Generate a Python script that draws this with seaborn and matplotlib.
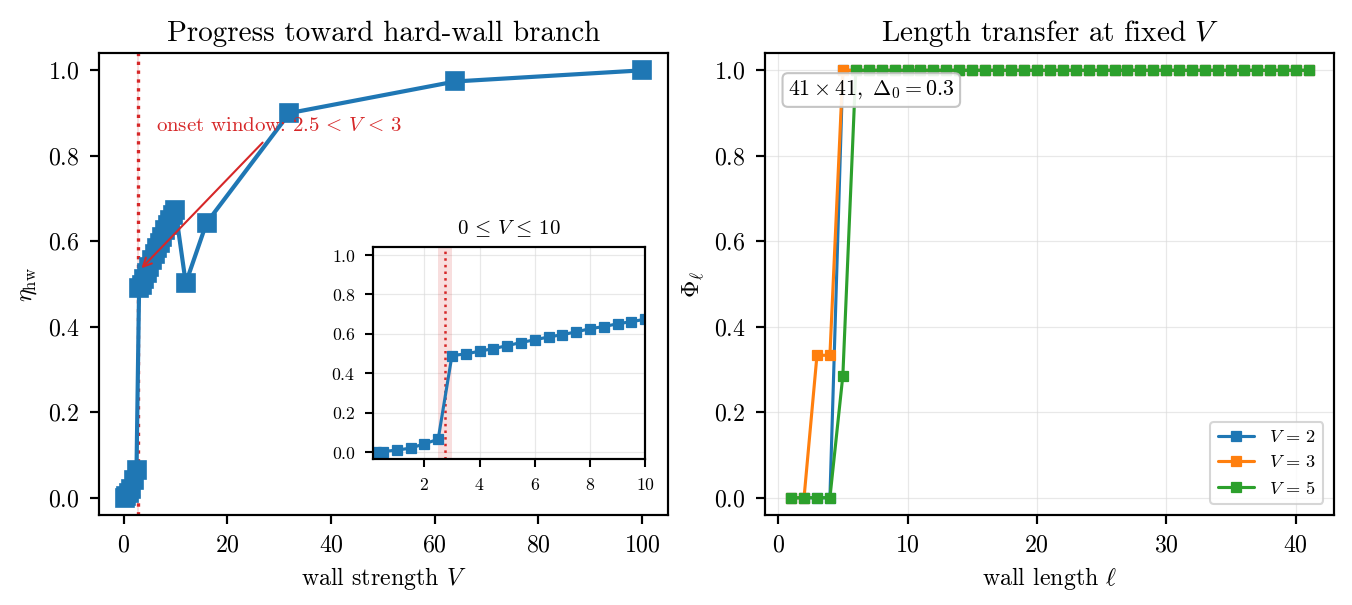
import numpy as np
import pandas as pd
import seaborn as sns
import matplotlib.pyplot as plt

# --- data ---
wall_V = [0.25, 0.5, 1.0, 1.5, 2.0, 2.5, 3.0, 3.5, 4.0, 4.5, 5.0, 5.5, 6.0, 6.5,
          7.0, 7.5, 8.0, 8.5, 9.0, 9.5, 10.0, 12.0, 16.0, 32.0, 64.0, 100.0]
eta_hw = [0.0, 0.003, 0.01, 0.02, 0.042, 0.065, 0.49, 0.498, 0.512, 0.525, 0.54,
          0.556, 0.57, 0.584, 0.596, 0.61, 0.626, 0.637, 0.651, 0.662, 0.674,
          0.502, 0.643, 0.90, 0.974, 1.0]

wall_len = list(range(1, 42))
phi_V2 = [0, 0, 0, 0, 1, 1, 1, 1, 1, 1, 1, 1, 1, 1, 1, 1, 1, 1, 1, 1, 1,
          1, 1, 1, 1, 1, 1, 1, 1, 1, 1, 1, 1, 1, 1, 1, 1, 1, 1, 1, 1]
phi_V3 = [0, 0, 1/3, 1/3, 1, 1, 1, 1, 1, 1, 1, 1, 1, 1, 1, 1, 1, 1, 1, 1, 1,
          1, 1, 1, 1, 1, 1, 1, 1, 1, 1, 1, 1, 1, 1, 1, 1, 1, 1, 1, 1]
phi_V5 = [0, 0, 0, 0, 2/7, 1, 1, 1, 1, 1, 1, 1, 1, 1, 1, 1, 1, 1, 1, 1, 1,
          1, 1, 1, 1, 1, 1, 1, 1, 1, 1, 1, 1, 1, 1, 1, 1, 1, 1, 1, 1]
series_labels = [r'$V\,=\,2$', r'$V\,=\,3$', r'$V\,=\,5$']
series_colors = ['#1f77b4', '#ff7f0e', '#2ca02c']

onset_lo, onset_hi, onset_mid = 2.5, 3.0, 2.75

main_df = pd.DataFrame({'V': wall_V, 'eta': eta_hw})
inset_df = main_df[main_df['V'] <= 10]

# --- style ---
sns.set_theme(style='ticks', rc={
    'axes.edgecolor': 'black', 'xtick.color': 'black', 'ytick.color': 'black',
    'text.color': 'black', 'axes.labelcolor': 'black', 'axes.linewidth': 1.05,
})
plt.rcParams['font.family'] = ['cmr10', 'DejaVu Serif']
plt.rcParams['mathtext.fontset'] = 'cm'
plt.rcParams['axes.formatter.use_mathtext'] = True
plt.rcParams['axes.unicode_minus'] = False

fig = plt.figure(figsize=(1352 / 150, 605 / 150), dpi=150)
ax1 = fig.add_axes([0.0732, 0.149, 0.4209, 0.763])
ax2 = fig.add_axes([0.566, 0.149, 0.421, 0.763])

# --- left: progress toward hard-wall branch ---
blue = series_colors[0]
ax1.axvspan(onset_lo, onset_hi, color='tab:red', alpha=0.15, lw=0)
ax1.axvline(onset_mid, color='tab:red', ls=':', lw=1.6)
sns.lineplot(data=main_df, x='V', y='eta', ax=ax1, color=blue, lw=2,
             marker='s', markersize=8.5, mec=blue, mew=0.8)
ax1.annotate(r'onset window: $2.5\,<\,V\,<\,3$', xy=(2.9, 0.53), xytext=(6.2, 0.87),
             color='tab:red', fontsize=10, va='center',
             arrowprops=dict(arrowstyle='->', color='tab:red', lw=1))
ax1.set_title('Progress toward hard-wall branch', fontsize=14)
ax1.set_xlabel('wall strength $V$', fontsize=11.5)
ax1.set_ylabel(r'$\eta_{\mathrm{hw}}$', fontsize=11.5)
ax1.set_xticks([0, 20, 40, 60, 80, 100])
ax1.set_yticks([0.0, 0.2, 0.4, 0.6, 0.8, 1.0])
ax1.set_ylim(-0.04, 1.04)
ax1.tick_params(labelsize=11.5, length=4.5, width=1.05, pad=4.8)

# inset zoom on 0 <= V <= 10
axin = ax1.inset_axes([0.482, 0.121, 0.478, 0.459])
axin.axvspan(onset_lo, onset_hi, color='tab:red', alpha=0.15, lw=0)
axin.axvline(onset_mid, color='tab:red', ls=':', lw=1.2)
sns.lineplot(data=inset_df, x='V', y='eta', ax=axin, color=blue, lw=1.5,
             marker='s', markersize=5, mec=blue, mew=0.6)
axin.set_xlim(0.15, 10)
axin.set_ylim(-0.035, 1.04)
axin.set_xticks([2, 4, 6, 8, 10])
axin.set_yticks([0.0, 0.2, 0.4, 0.6, 0.8, 1.0])
axin.grid(True, color='0.85', lw=0.6, alpha=0.6)
axin.tick_params(labelsize=8.5, length=4, width=1.0, pad=4.5)
axin.set_xlabel('')
axin.set_ylabel('')
axin.set_title(r'$0\,\leq\,V\,\leq\,10$', fontsize=10)

# --- right: length transfer at fixed V ---
for phi, lab, col in zip([phi_V2, phi_V3, phi_V5], series_labels, series_colors):
    sns.lineplot(x=wall_len, y=phi, ax=ax2, color=col, lw=1.5, marker='s',
                 markersize=4.5, mec=col, mew=0.6, label=lab)
ax2.grid(True, color='0.85', lw=0.6, alpha=0.6)
ax2.set_title('Length transfer at fixed $V$', fontsize=14)
ax2.set_xlabel(r'wall length $\ell$', fontsize=11.5)
ax2.set_ylabel(r'$\Phi_\ell$', fontsize=11.5)
ax2.set_xticks([0, 10, 20, 30, 40])
ax2.set_yticks([0.0, 0.2, 0.4, 0.6, 0.8, 1.0])
ax2.set_ylim(-0.04, 1.04)
ax2.tick_params(labelsize=11.5, length=4.5, width=1.05, pad=4.8)
ax2.legend(loc='lower right', fontsize=8.8, frameon=True, framealpha=0.8,
           edgecolor='0.8', fancybox=True, borderaxespad=0.6)
ax2.text(0.04, 0.945, r'$41 \times 41,\ \Delta_0 = 0.3$', transform=ax2.transAxes,
         fontsize=10.5, va='top', ha='left',
         bbox=dict(boxstyle='round,pad=0.25', fc='white', ec='0.75', alpha=0.9))

fig.savefig('out.png', dpi=150)
